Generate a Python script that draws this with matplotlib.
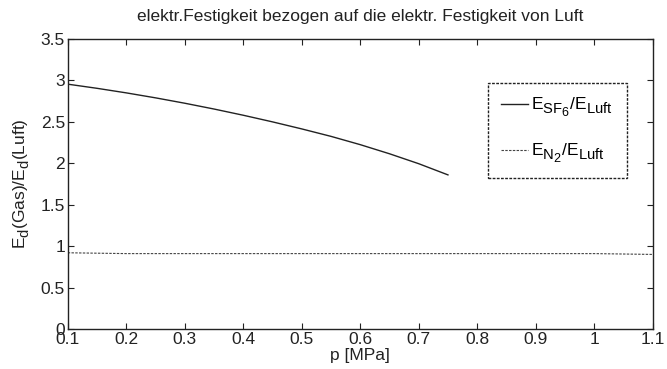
import matplotlib
matplotlib.use("Agg")
import matplotlib.pyplot as plt
import matplotlib._mathtext as mt
from matplotlib.ticker import FuncFormatter

plt.rcParams["font.family"] = ["Liberation Sans", "DejaVu Sans"]
plt.rcParams["mathtext.fontset"] = "custom"
plt.rcParams["mathtext.rm"] = "Liberation Sans"
plt.rcParams["mathtext.it"] = "Liberation Sans"
plt.rcParams["mathtext.bf"] = "Liberation Sans"
# larger, lower subscripts
mt.SHRINK_FACTOR = 0.85
mt.FontConstantsBase.sub1 = 0.45
mt.FontConstantsBase.sub2 = 0.6

# Druck in MPa
p_sf6 = [0.10, 0.15, 0.20, 0.25, 0.30, 0.35, 0.40, 0.45, 0.50, 0.55, 0.60, 0.65, 0.70, 0.75]
ratio_sf6 = [2.955, 2.905, 2.85, 2.79, 2.725, 2.655, 2.58, 2.50, 2.415, 2.325, 2.225, 2.115, 1.995, 1.86]

p_n2 = [0.1, 0.2, 0.3, 0.4, 0.5, 0.6, 0.7, 0.8, 0.9, 1.0, 1.1]
ratio_n2 = [0.92, 0.91, 0.91, 0.91, 0.91, 0.91, 0.91, 0.91, 0.91, 0.91, 0.90]

x_ticks = [0.1, 0.2, 0.3, 0.4, 0.5, 0.6, 0.7, 0.8, 0.9, 1.0, 1.1]
y_ticks = [0, 0.5, 1, 1.5, 2, 2.5, 3, 3.5]

fs = 12.5
fig = plt.figure(figsize=(6.67, 3.69), dpi=100)
ax = fig.add_axes([0.1015, 0.1084, 0.8771, 0.7859])

ax.plot(p_sf6, ratio_sf6, color="#222222", lw=1.0, ls="-",
        label=r"$\mathregular{E_{SF_6}/E_{Luft}}$")
ax.plot(p_n2, ratio_n2, color="#444444", lw=0.8, ls=(0, (2.2, 1.2)),
        label=r"$\mathregular{E_{N_2}/E_{Luft}}$")

ax.set_xlim(0.1, 1.1)
ax.set_ylim(0, 3.5)
ax.set_xticks(x_ticks)
ax.set_yticks(y_ticks)
ax.xaxis.set_major_formatter(FuncFormatter(lambda v, _: f"{v:g}"))
ax.yaxis.set_major_formatter(FuncFormatter(lambda v, _: f"{v:g}"))
ax.tick_params(direction="in", length=4, width=0.8, labelsize=fs,
               top=True, right=True, colors="#222222", pad=2)
for s in ax.spines.values():
    s.set_linewidth(1.0)
    s.set_color("#222222")

ax.set_title("elektr.Festigkeit bezogen auf die elektr. Festigkeit von Luft",
             fontsize=fs, pad=13, color="#222222")
ax.set_xlabel("p [MPa]", fontsize=fs, labelpad=1, color="#222222")
ax.set_ylabel(r"$\mathregular{E_d(Gas)/E_d(Luft)}$", fontsize=fs, labelpad=6,
              color="#222222")

# legend box spans a fixed width inside the axes
leg = ax.legend(loc="upper left", bbox_to_anchor=(0.7185, 0.848, 0.2377, 0.0),
                mode="expand",
                fontsize=fs, fancybox=False, framealpha=1, edgecolor="#222222",
                handlelength=1.55, handletextpad=0.2, labelspacing=1.3,
                borderpad=0.74, borderaxespad=0)
leg.get_frame().set_linestyle((0, (2, 1)))
leg.get_frame().set_linewidth(1.0)

fig.savefig("out.png", dpi=100)
